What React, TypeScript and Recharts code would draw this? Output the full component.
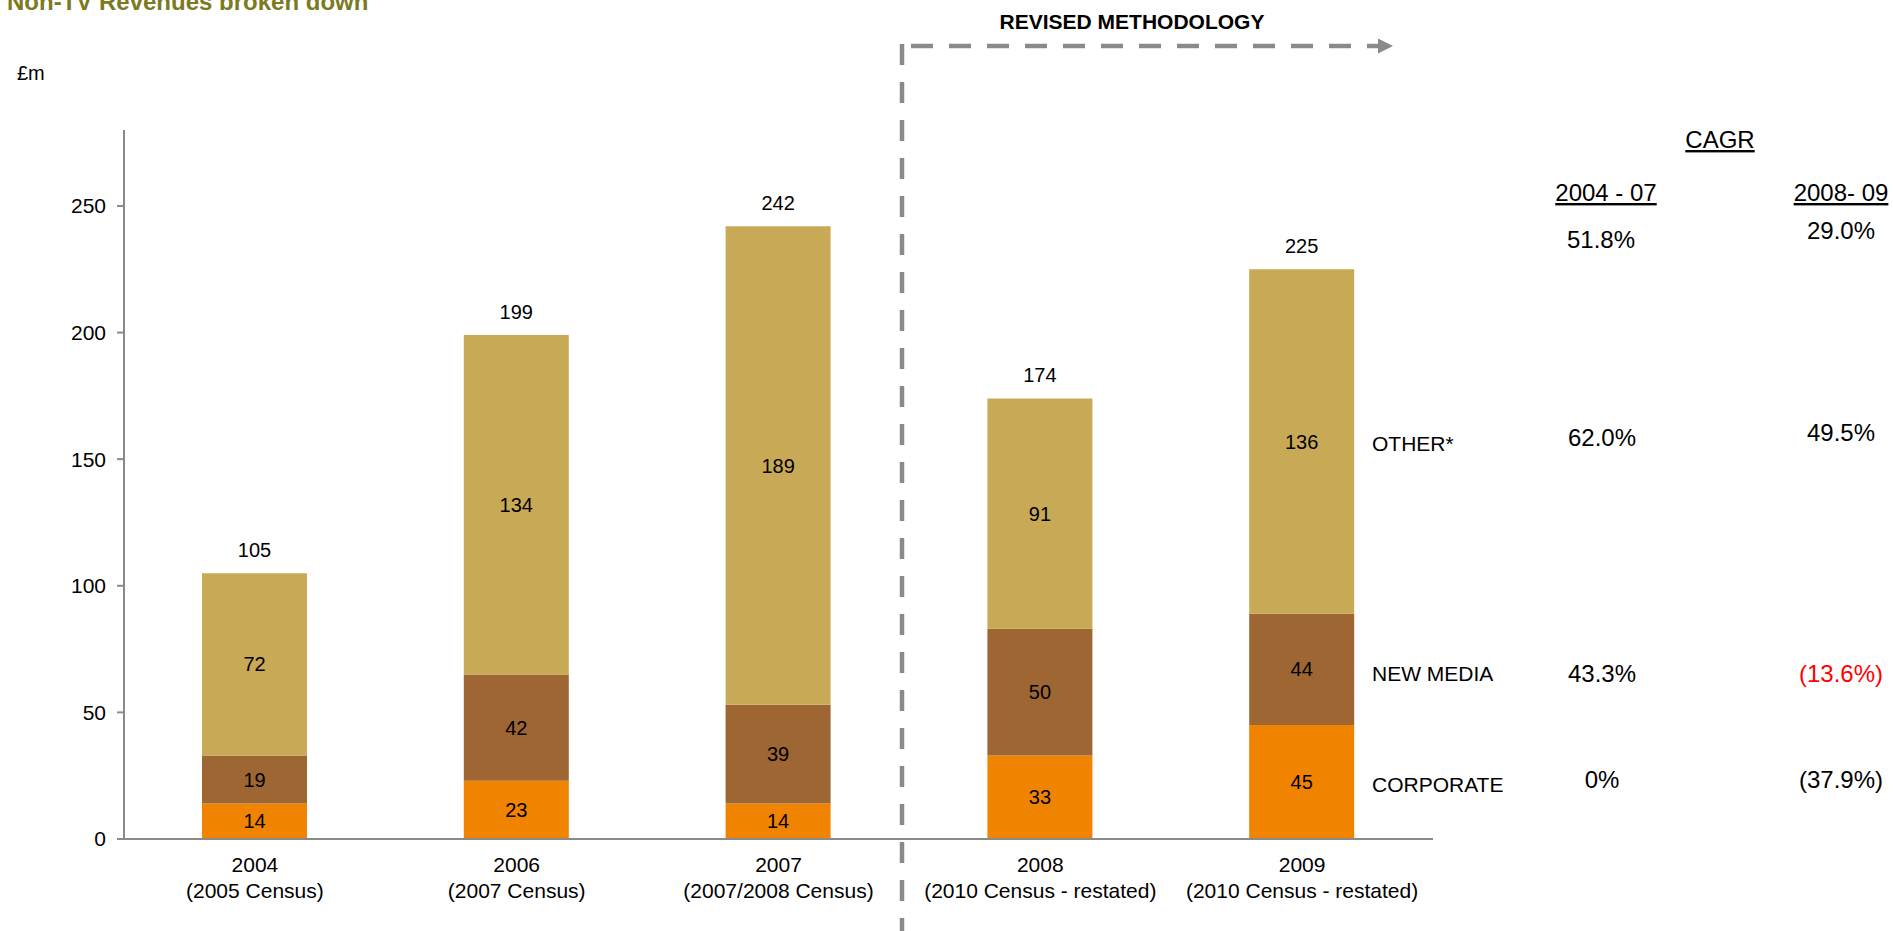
import React from 'react';
import { BarChart, Bar, XAxis, YAxis, LabelList } from 'recharts';

const categories = ['2004', '2006', '2007', '2008', '2009'];
const subLabels = ['(2005 Census)', '(2007 Census)', '(2007/2008 Census)', '(2010 Census - restated)', '(2010 Census - restated)'];
const corporate = [14, 23, 14, 33, 45];
const newMedia = [19, 42, 39, 50, 44];
const other = [72, 134, 189, 91, 136];
const totals = [105, 199, 242, 174, 225];
const yTicks = [0, 50, 100, 150, 200, 250];

const cagrRows = ['OTHER*', 'NEW MEDIA', 'CORPORATE'];
const cagr0407 = ['51.8%', '62.0%', '43.3%', '0%'];
const cagr0809 = ['29.0%', '49.5%', '(13.6%)', '(37.9%)'];

const data = categories.map((name, i) => ({
  name,
  corporate: corporate[i],
  newMedia: newMedia[i],
  other: other[i],
  total: totals[i],
}));

const FONT = '"Liberation Sans", Arial, Helvetica, sans-serif';
const GRAY = '#8a8a8a';

const XTick = (props: any) => {
  const { x, y, payload } = props;
  const i = categories.indexOf(payload.value);
  return (
    <text x={x} y={y} textAnchor="middle" fontSize={21} fontFamily={FONT} fill="#000">
      <tspan x={x} dy={33}>{payload.value}</tspan>
      <tspan x={x} dy={26}>{subLabels[i]}</tspan>
    </text>
  );
};

export default function App() {
  const txt = { fontFamily: FONT, fill: '#000', fontSize: 21 } as const;
  const pct = { fontFamily: FONT, fill: '#000', fontSize: 24 } as const;
  return (
    <div style={{ position: 'absolute', left: 0, top: 0, width: 1893, height: 931, background: '#fff' }}>
      <BarChart
        width={1893}
        height={931}
        data={data}
        margin={{ top: 130, right: 460, bottom: 32, left: 64 }}
      >
        <XAxis
          dataKey="name"
          height={60}
          axisLine={{ stroke: GRAY, strokeWidth: 2 }}
          tickLine={false}
          tickSize={0}
          tickMargin={0}
          tick={<XTick />}
          interval={0}
        />
        <YAxis
          width={60}
          domain={[0, 280]}
          ticks={yTicks}
          axisLine={{ stroke: GRAY, strokeWidth: 2 }}
          tickLine={{ stroke: GRAY, strokeWidth: 2 }}
          tickSize={7}
          tickMargin={11}
          tick={{ fill: '#000', fontSize: 21, fontFamily: FONT }}
          allowDataOverflow
        />
        <Bar dataKey="corporate" stackId="s" fill="#F08300" barSize={105} isAnimationActive={false}>
          <LabelList dataKey="corporate" position="center" fill="#000" fontSize={20} fontFamily={FONT} />
        </Bar>
        <Bar dataKey="newMedia" stackId="s" fill="#9D6633" barSize={105} isAnimationActive={false}>
          <LabelList dataKey="newMedia" position="center" fill="#000" fontSize={20} fontFamily={FONT} />
        </Bar>
        <Bar dataKey="other" stackId="s" fill="#C8A956" barSize={105} isAnimationActive={false}>
          <LabelList dataKey="other" position="center" fill="#000" fontSize={20} fontFamily={FONT} />
          <LabelList dataKey="total" position="top" offset={16} fill="#000" fontSize={20} fontFamily={FONT} />
        </Bar>
      </BarChart>
      <svg width={1893} height={931} style={{ position: 'absolute', left: 0, top: 0, pointerEvents: 'none' }}>
        <text x={7} y={9.5} fontFamily={FONT} fontWeight="bold" fontSize={24} fill="#7A7A1E">Non-TV Revenues broken down</text>
        <text x={17} y={80} {...txt} fontSize={20}>£m</text>
        <text x={1132} y={29} {...txt} fontSize={21} fontWeight="bold" textAnchor="middle">REVISED METHODOLOGY</text>
        <line x1={902} y1={44} x2={902} y2={931} stroke={GRAY} strokeWidth={4.5} strokeDasharray="21 17" />
        <line x1={911} y1={46} x2={1380} y2={46} stroke={GRAY} strokeWidth={4.5} strokeDasharray="22 16" />
        <polygon points="1378,38.5 1393,46 1378,53.5" fill={GRAY} />

        <text x={1720} y={148} {...pct} textAnchor="middle" textDecoration="underline">CAGR</text>
        <text x={1606} y={201} {...pct} textAnchor="middle" textDecoration="underline">2004 - 07</text>
        <text x={1841} y={201} {...pct} textAnchor="middle" textDecoration="underline">2008- 09</text>
        <text x={1601} y={248} {...pct} textAnchor="middle">{cagr0407[0]}</text>
        <text x={1841} y={239} {...pct} textAnchor="middle">{cagr0809[0]}</text>

        <text x={1372} y={451} {...txt}>{cagrRows[0]}</text>
        <text x={1602} y={446} {...pct} textAnchor="middle">{cagr0407[1]}</text>
        <text x={1841} y={441} {...pct} textAnchor="middle">{cagr0809[1]}</text>

        <text x={1372} y={681} {...txt}>{cagrRows[1]}</text>
        <text x={1602} y={682} {...pct} textAnchor="middle">{cagr0407[2]}</text>
        <text x={1841} y={682} {...pct} textAnchor="middle" fill="#FF0000">{cagr0809[2]}</text>

        <text x={1372} y={792} {...txt}>{cagrRows[2]}</text>
        <text x={1602} y={788} {...pct} textAnchor="middle">{cagr0407[3]}</text>
        <text x={1841} y={788} {...pct} textAnchor="middle">{cagr0809[3]}</text>
      </svg>
    </div>
  );
}
